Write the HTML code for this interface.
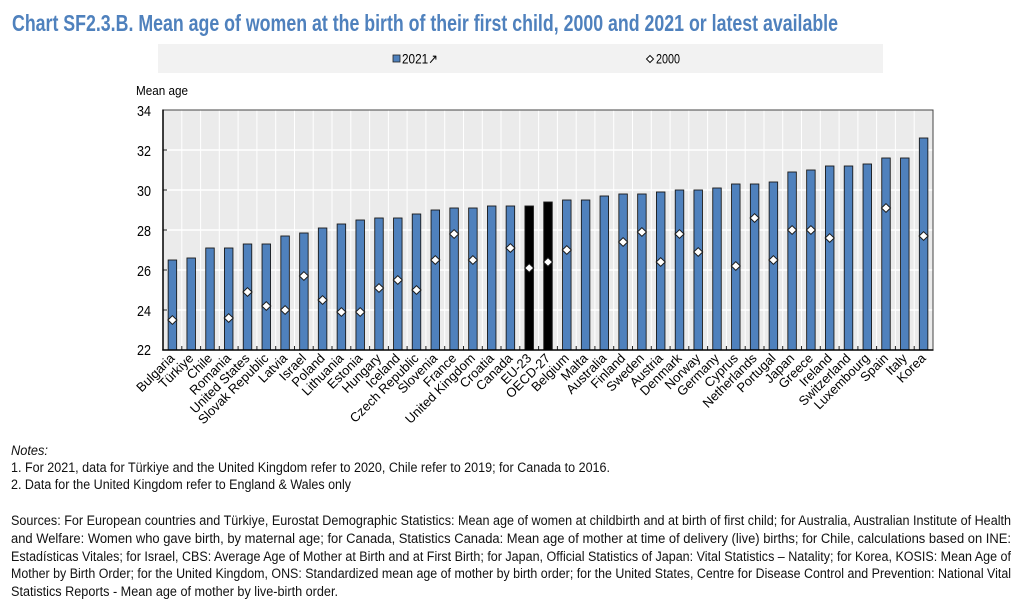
<!DOCTYPE html>
<html>
<head>
<meta charset="utf-8">
<style>
html,body{margin:0;padding:0;background:#fff;}
svg{display:block;}
text{font-family:"Liberation Sans",Arial,sans-serif;}
</style>
</head>
<body>
<svg width="1024" height="615" viewBox="0 0 1024 615" xmlns="http://www.w3.org/2000/svg">
<rect x="0" y="0" width="1024" height="615" fill="#fff"/>
<text x="12" y="31" font-size="23" font-weight="bold" fill="#4f81bd" textLength="826" lengthAdjust="spacingAndGlyphs">Chart SF2.3.B. Mean age of women at the birth of their first child, 2000 and 2021 or latest available</text>

<!-- legend -->
<rect x="158" y="44" width="725" height="29" fill="#f2f2f2"/>
<rect x="393" y="55" width="7" height="7" fill="#4f81bd" stroke="#222" stroke-width="0.8"/>
<text x="402" y="63.5" font-size="13.5" fill="#000" textLength="36" lengthAdjust="spacingAndGlyphs">2021↗</text>
<path d="M0,-3.5 L3.5,0 0,3.5 -3.5,0Z" transform="translate(650,59)" fill="#fff" stroke="#111" stroke-width="1"/>
<text x="656" y="63.5" font-size="13.5" fill="#000" textLength="24" lengthAdjust="spacingAndGlyphs">2000</text>

<text x="136" y="95" font-size="13" fill="#000" textLength="52" lengthAdjust="spacingAndGlyphs">Mean age</text>

<!-- plot area -->
<rect x="163" y="110" width="770" height="240" fill="#ebebeb"/>
<g stroke="#fff" stroke-width="1.5">
<line x1="163" y1="150" x2="933" y2="150"/>
<line x1="163" y1="190" x2="933" y2="190"/>
<line x1="163" y1="230" x2="933" y2="230"/>
<line x1="163" y1="270" x2="933" y2="270"/>
<line x1="163" y1="310" x2="933" y2="310"/>
</g>
<g stroke="#fff" stroke-width="1">
<line x1="181.8" y1="110" x2="181.8" y2="350"/><line x1="200.6" y1="110" x2="200.6" y2="350"/><line x1="219.3" y1="110" x2="219.3" y2="350"/><line x1="238.1" y1="110" x2="238.1" y2="350"/><line x1="256.9" y1="110" x2="256.9" y2="350"/><line x1="275.7" y1="110" x2="275.7" y2="350"/><line x1="294.5" y1="110" x2="294.5" y2="350"/><line x1="313.2" y1="110" x2="313.2" y2="350"/><line x1="332.0" y1="110" x2="332.0" y2="350"/><line x1="350.8" y1="110" x2="350.8" y2="350"/><line x1="369.6" y1="110" x2="369.6" y2="350"/><line x1="388.4" y1="110" x2="388.4" y2="350"/><line x1="407.1" y1="110" x2="407.1" y2="350"/><line x1="425.9" y1="110" x2="425.9" y2="350"/><line x1="444.7" y1="110" x2="444.7" y2="350"/><line x1="463.5" y1="110" x2="463.5" y2="350"/><line x1="482.3" y1="110" x2="482.3" y2="350"/><line x1="501.0" y1="110" x2="501.0" y2="350"/><line x1="519.8" y1="110" x2="519.8" y2="350"/><line x1="538.6" y1="110" x2="538.6" y2="350"/><line x1="557.4" y1="110" x2="557.4" y2="350"/><line x1="576.2" y1="110" x2="576.2" y2="350"/><line x1="594.9" y1="110" x2="594.9" y2="350"/><line x1="613.7" y1="110" x2="613.7" y2="350"/><line x1="632.5" y1="110" x2="632.5" y2="350"/><line x1="651.3" y1="110" x2="651.3" y2="350"/><line x1="670.1" y1="110" x2="670.1" y2="350"/><line x1="688.8" y1="110" x2="688.8" y2="350"/><line x1="707.6" y1="110" x2="707.6" y2="350"/><line x1="726.4" y1="110" x2="726.4" y2="350"/><line x1="745.2" y1="110" x2="745.2" y2="350"/><line x1="764.0" y1="110" x2="764.0" y2="350"/><line x1="782.7" y1="110" x2="782.7" y2="350"/><line x1="801.5" y1="110" x2="801.5" y2="350"/><line x1="820.3" y1="110" x2="820.3" y2="350"/><line x1="839.1" y1="110" x2="839.1" y2="350"/><line x1="857.9" y1="110" x2="857.9" y2="350"/><line x1="876.6" y1="110" x2="876.6" y2="350"/><line x1="895.4" y1="110" x2="895.4" y2="350"/><line x1="914.2" y1="110" x2="914.2" y2="350"/>
</g>

<!-- bars -->
<g fill="#4f81bd" stroke="#1a1a1a" stroke-width="0.9">
<rect x="168.15" y="260" width="8.5" height="90"/>
<rect x="186.95" y="258" width="8.5" height="92"/>
<rect x="205.75" y="248" width="8.5" height="102"/>
<rect x="224.45" y="248" width="8.5" height="102"/>
<rect x="243.25" y="244" width="8.5" height="106"/>
<rect x="262.05" y="244" width="8.5" height="106"/>
<rect x="280.85" y="236" width="8.5" height="114"/>
<rect x="299.65" y="233" width="8.5" height="117"/>
<rect x="318.35" y="228" width="8.5" height="122"/>
<rect x="337.15" y="224" width="8.5" height="126"/>
<rect x="355.95" y="220" width="8.5" height="130"/>
<rect x="374.75" y="218" width="8.5" height="132"/>
<rect x="393.55" y="218" width="8.5" height="132"/>
<rect x="412.25" y="214" width="8.5" height="136"/>
<rect x="431.05" y="210" width="8.5" height="140"/>
<rect x="449.85" y="208" width="8.5" height="142"/>
<rect x="468.65" y="208" width="8.5" height="142"/>
<rect x="487.45" y="206" width="8.5" height="144"/>
<rect x="506.15" y="206" width="8.5" height="144"/>
<rect x="524.95" y="206" width="8.5" height="144" fill="#000"/>
<rect x="543.75" y="202" width="8.5" height="148" fill="#000"/>
<rect x="562.55" y="200" width="8.5" height="150"/>
<rect x="581.35" y="200" width="8.5" height="150"/>
<rect x="600.05" y="196" width="8.5" height="154"/>
<rect x="618.85" y="194" width="8.5" height="156"/>
<rect x="637.65" y="194" width="8.5" height="156"/>
<rect x="656.45" y="192" width="8.5" height="158"/>
<rect x="675.25" y="190" width="8.5" height="160"/>
<rect x="693.95" y="190" width="8.5" height="160"/>
<rect x="712.75" y="188" width="8.5" height="162"/>
<rect x="731.55" y="184" width="8.5" height="166"/>
<rect x="750.35" y="184" width="8.5" height="166"/>
<rect x="769.15" y="182" width="8.5" height="168"/>
<rect x="787.85" y="172" width="8.5" height="178"/>
<rect x="806.65" y="170" width="8.5" height="180"/>
<rect x="825.45" y="166" width="8.5" height="184"/>
<rect x="844.25" y="166" width="8.5" height="184"/>
<rect x="863.05" y="164" width="8.5" height="186"/>
<rect x="881.75" y="158" width="8.5" height="192"/>
<rect x="900.55" y="158" width="8.5" height="192"/>
<rect x="919.35" y="138" width="8.5" height="212"/>
</g>

<!-- 2000 diamonds -->
<g fill="#fff" stroke="#1a1a1a" stroke-width="1">
<path d="M0,-4.3 L4.5,0 0,4.3 -4.5,0Z" transform="translate(172.4,320)"/>
<path d="M0,-4.3 L4.5,0 0,4.3 -4.5,0Z" transform="translate(228.7,318)"/>
<path d="M0,-4.3 L4.5,0 0,4.3 -4.5,0Z" transform="translate(247.5,292)"/>
<path d="M0,-4.3 L4.5,0 0,4.3 -4.5,0Z" transform="translate(266.3,306)"/>
<path d="M0,-4.3 L4.5,0 0,4.3 -4.5,0Z" transform="translate(285.1,310)"/>
<path d="M0,-4.3 L4.5,0 0,4.3 -4.5,0Z" transform="translate(303.9,276)"/>
<path d="M0,-4.3 L4.5,0 0,4.3 -4.5,0Z" transform="translate(322.6,300)"/>
<path d="M0,-4.3 L4.5,0 0,4.3 -4.5,0Z" transform="translate(341.4,312)"/>
<path d="M0,-4.3 L4.5,0 0,4.3 -4.5,0Z" transform="translate(360.2,312)"/>
<path d="M0,-4.3 L4.5,0 0,4.3 -4.5,0Z" transform="translate(379.0,288)"/>
<path d="M0,-4.3 L4.5,0 0,4.3 -4.5,0Z" transform="translate(397.8,280)"/>
<path d="M0,-4.3 L4.5,0 0,4.3 -4.5,0Z" transform="translate(416.5,290)"/>
<path d="M0,-4.3 L4.5,0 0,4.3 -4.5,0Z" transform="translate(435.3,260)"/>
<path d="M0,-4.3 L4.5,0 0,4.3 -4.5,0Z" transform="translate(454.1,234)"/>
<path d="M0,-4.3 L4.5,0 0,4.3 -4.5,0Z" transform="translate(472.9,260)"/>
<path d="M0,-4.3 L4.5,0 0,4.3 -4.5,0Z" transform="translate(510.4,248)"/>
<path d="M0,-4.3 L4.5,0 0,4.3 -4.5,0Z" transform="translate(529.2,268)"/>
<path d="M0,-4.3 L4.5,0 0,4.3 -4.5,0Z" transform="translate(548.0,262)"/>
<path d="M0,-4.3 L4.5,0 0,4.3 -4.5,0Z" transform="translate(566.8,250)"/>
<path d="M0,-4.3 L4.5,0 0,4.3 -4.5,0Z" transform="translate(623.1,242)"/>
<path d="M0,-4.3 L4.5,0 0,4.3 -4.5,0Z" transform="translate(641.9,232)"/>
<path d="M0,-4.3 L4.5,0 0,4.3 -4.5,0Z" transform="translate(660.7,262)"/>
<path d="M0,-4.3 L4.5,0 0,4.3 -4.5,0Z" transform="translate(679.5,234)"/>
<path d="M0,-4.3 L4.5,0 0,4.3 -4.5,0Z" transform="translate(698.2,252)"/>
<path d="M0,-4.3 L4.5,0 0,4.3 -4.5,0Z" transform="translate(735.8,266)"/>
<path d="M0,-4.3 L4.5,0 0,4.3 -4.5,0Z" transform="translate(754.6,218)"/>
<path d="M0,-4.3 L4.5,0 0,4.3 -4.5,0Z" transform="translate(773.4,260)"/>
<path d="M0,-4.3 L4.5,0 0,4.3 -4.5,0Z" transform="translate(792.1,230)"/>
<path d="M0,-4.3 L4.5,0 0,4.3 -4.5,0Z" transform="translate(810.9,230)"/>
<path d="M0,-4.3 L4.5,0 0,4.3 -4.5,0Z" transform="translate(829.7,238)"/>
<path d="M0,-4.3 L4.5,0 0,4.3 -4.5,0Z" transform="translate(886.0,208)"/>
<path d="M0,-4.3 L4.5,0 0,4.3 -4.5,0Z" transform="translate(923.6,236)"/>
</g>

<!-- ticks -->
<g stroke="#222" stroke-width="1">
<line x1="181.8" y1="350" x2="181.8" y2="346"/><line x1="200.6" y1="350" x2="200.6" y2="346"/><line x1="219.3" y1="350" x2="219.3" y2="346"/><line x1="238.1" y1="350" x2="238.1" y2="346"/><line x1="256.9" y1="350" x2="256.9" y2="346"/><line x1="275.7" y1="350" x2="275.7" y2="346"/><line x1="294.5" y1="350" x2="294.5" y2="346"/><line x1="313.2" y1="350" x2="313.2" y2="346"/><line x1="332.0" y1="350" x2="332.0" y2="346"/><line x1="350.8" y1="350" x2="350.8" y2="346"/><line x1="369.6" y1="350" x2="369.6" y2="346"/><line x1="388.4" y1="350" x2="388.4" y2="346"/><line x1="407.1" y1="350" x2="407.1" y2="346"/><line x1="425.9" y1="350" x2="425.9" y2="346"/><line x1="444.7" y1="350" x2="444.7" y2="346"/><line x1="463.5" y1="350" x2="463.5" y2="346"/><line x1="482.3" y1="350" x2="482.3" y2="346"/><line x1="501.0" y1="350" x2="501.0" y2="346"/><line x1="519.8" y1="350" x2="519.8" y2="346"/><line x1="538.6" y1="350" x2="538.6" y2="346"/><line x1="557.4" y1="350" x2="557.4" y2="346"/><line x1="576.2" y1="350" x2="576.2" y2="346"/><line x1="594.9" y1="350" x2="594.9" y2="346"/><line x1="613.7" y1="350" x2="613.7" y2="346"/><line x1="632.5" y1="350" x2="632.5" y2="346"/><line x1="651.3" y1="350" x2="651.3" y2="346"/><line x1="670.1" y1="350" x2="670.1" y2="346"/><line x1="688.8" y1="350" x2="688.8" y2="346"/><line x1="707.6" y1="350" x2="707.6" y2="346"/><line x1="726.4" y1="350" x2="726.4" y2="346"/><line x1="745.2" y1="350" x2="745.2" y2="346"/><line x1="764.0" y1="350" x2="764.0" y2="346"/><line x1="782.7" y1="350" x2="782.7" y2="346"/><line x1="801.5" y1="350" x2="801.5" y2="346"/><line x1="820.3" y1="350" x2="820.3" y2="346"/><line x1="839.1" y1="350" x2="839.1" y2="346"/><line x1="857.9" y1="350" x2="857.9" y2="346"/><line x1="876.6" y1="350" x2="876.6" y2="346"/><line x1="895.4" y1="350" x2="895.4" y2="346"/><line x1="914.2" y1="350" x2="914.2" y2="346"/>
<line x1="163" y1="150" x2="167" y2="150"/><line x1="163" y1="190" x2="167" y2="190"/><line x1="163" y1="230" x2="167" y2="230"/><line x1="163" y1="270" x2="167" y2="270"/><line x1="163" y1="310" x2="167" y2="310"/>
</g>

<!-- frame -->
<rect x="163" y="110" width="770" height="240" fill="none" stroke="#444" stroke-width="1"/>
<line x1="163" y1="109.5" x2="163" y2="350.5" stroke="#000" stroke-width="1.5"/>
<line x1="162.3" y1="350" x2="933.5" y2="350" stroke="#000" stroke-width="1.5"/>

<!-- y labels -->
<g font-size="15" fill="#000" text-anchor="end">
<text x="151" y="116" textLength="14" lengthAdjust="spacingAndGlyphs">34</text>
<text x="151" y="156" textLength="14" lengthAdjust="spacingAndGlyphs">32</text>
<text x="151" y="196" textLength="14" lengthAdjust="spacingAndGlyphs">30</text>
<text x="151" y="236" textLength="14" lengthAdjust="spacingAndGlyphs">28</text>
<text x="151" y="276" textLength="14" lengthAdjust="spacingAndGlyphs">26</text>
<text x="151" y="316" textLength="14" lengthAdjust="spacingAndGlyphs">24</text>
<text x="151" y="355" textLength="14" lengthAdjust="spacingAndGlyphs">22</text>
</g>

<!-- x labels -->
<g font-size="13" fill="#000" text-anchor="end">
<text transform="translate(175.4,359) rotate(-45)">Bulgaria</text>
<text transform="translate(194.2,359) rotate(-45)">Türkiye</text>
<text transform="translate(213.0,359) rotate(-45)">Chile</text>
<text transform="translate(231.7,359) rotate(-45)">Romania</text>
<text transform="translate(250.5,359) rotate(-45)">United States</text>
<text transform="translate(269.3,359) rotate(-45)">Slovak Republic</text>
<text transform="translate(288.1,359) rotate(-45)">Latvia</text>
<text transform="translate(306.9,359) rotate(-45)">Israel</text>
<text transform="translate(325.6,359) rotate(-45)">Poland</text>
<text transform="translate(344.4,359) rotate(-45)">Lithuania</text>
<text transform="translate(363.2,359) rotate(-45)">Estonia</text>
<text transform="translate(382.0,359) rotate(-45)">Hungary</text>
<text transform="translate(400.8,359) rotate(-45)">Iceland</text>
<text transform="translate(419.5,359) rotate(-45)">Czech Republic</text>
<text transform="translate(438.3,359) rotate(-45)">Slovenia</text>
<text transform="translate(457.1,359) rotate(-45)">France</text>
<text transform="translate(475.9,359) rotate(-45)">United Kingdom</text>
<text transform="translate(494.7,359) rotate(-45)">Croatia</text>
<text transform="translate(513.4,359) rotate(-45)">Canada</text>
<text transform="translate(532.2,359) rotate(-45)">EU-23</text>
<text transform="translate(551.0,359) rotate(-45)">OECD-27</text>
<text transform="translate(569.8,359) rotate(-45)">Belgium</text>
<text transform="translate(588.6,359) rotate(-45)">Malta</text>
<text transform="translate(607.3,359) rotate(-45)">Australia</text>
<text transform="translate(626.1,359) rotate(-45)">Finland</text>
<text transform="translate(644.9,359) rotate(-45)">Sweden</text>
<text transform="translate(663.7,359) rotate(-45)">Austria</text>
<text transform="translate(682.5,359) rotate(-45)">Denmark</text>
<text transform="translate(701.2,359) rotate(-45)">Norway</text>
<text transform="translate(720.0,359) rotate(-45)">Germany</text>
<text transform="translate(738.8,359) rotate(-45)">Cyprus</text>
<text transform="translate(757.6,359) rotate(-45)">Netherlands</text>
<text transform="translate(776.4,359) rotate(-45)">Portugal</text>
<text transform="translate(795.1,359) rotate(-45)">Japan</text>
<text transform="translate(813.9,359) rotate(-45)">Greece</text>
<text transform="translate(832.7,359) rotate(-45)">Ireland</text>
<text transform="translate(851.5,359) rotate(-45)">Switzerland</text>
<text transform="translate(870.3,359) rotate(-45)">Luxembourg</text>
<text transform="translate(889.0,359) rotate(-45)">Spain</text>
<text transform="translate(907.8,359) rotate(-45)">Italy</text>
<text transform="translate(926.6,359) rotate(-45)">Korea</text>
</g>

<!-- notes -->
<g font-size="13.5" fill="#111">
<text x="11" y="455" font-style="italic" textLength="37" lengthAdjust="spacingAndGlyphs">Notes:</text>
<text x="11" y="472" textLength="599" lengthAdjust="spacingAndGlyphs">1. For 2021, data for Türkiye and the United Kingdom refer to 2020, Chile refer to 2019; for Canada to 2016.</text>
<text x="11" y="489" textLength="340" lengthAdjust="spacingAndGlyphs">2. Data for the United Kingdom refer to England &amp; Wales only</text>
<text x="11" y="525" textLength="1000" lengthAdjust="spacingAndGlyphs">Sources: For European countries and Türkiye, Eurostat Demographic Statistics: Mean age of women at childbirth and at birth of first child; for Australia, Australian Institute of Health</text>
<text x="11" y="543" textLength="1000" lengthAdjust="spacingAndGlyphs">and Welfare: Women who gave birth, by maternal age; for Canada, Statistics Canada: Mean age of mother at time of delivery (live) births; for Chile, calculations based on INE:</text>
<text x="11" y="561" textLength="1000" lengthAdjust="spacingAndGlyphs">Estadísticas Vitales; for Israel, CBS: Average Age of Mother at Birth and at First Birth; for Japan, Official Statistics of Japan: Vital Statistics – Natality; for Korea, KOSIS: Mean Age of</text>
<text x="11" y="578" textLength="1000" lengthAdjust="spacingAndGlyphs">Mother by Birth Order; for the United Kingdom, ONS: Standardized mean age of mother by birth order; for the United States, Centre for Disease Control and Prevention: National Vital</text>
<text x="11" y="596" textLength="327" lengthAdjust="spacingAndGlyphs">Statistics Reports - Mean age of mother by live-birth order.</text>
</g>
</svg>
</body>
</html>
